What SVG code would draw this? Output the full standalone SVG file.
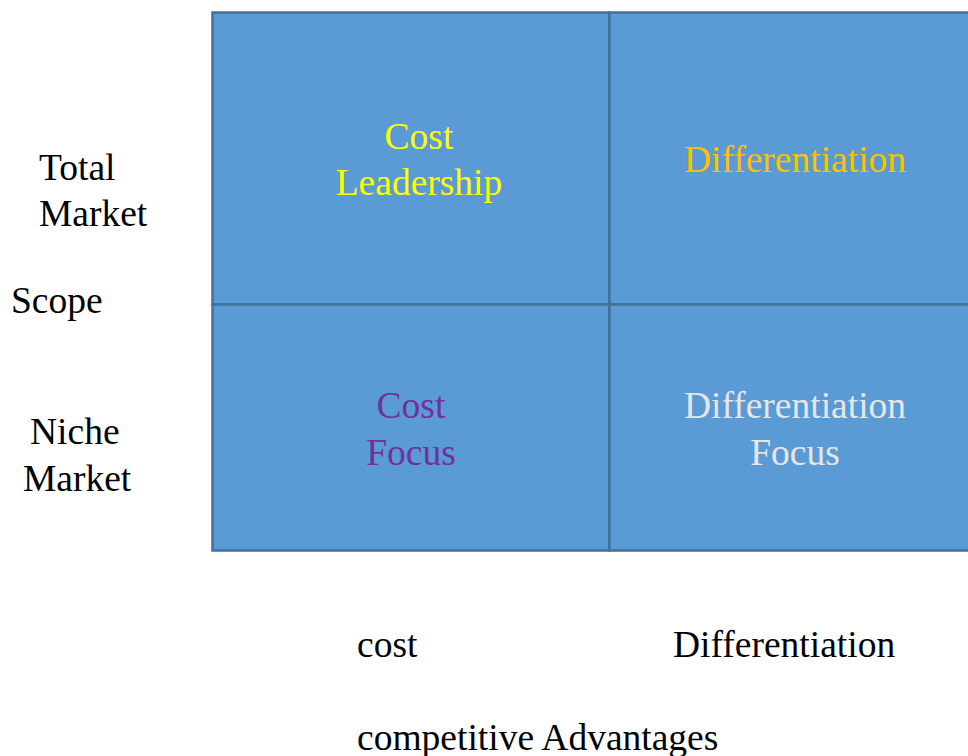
<svg xmlns="http://www.w3.org/2000/svg" width="968" height="756" viewBox="0 0 968 756">
<style>
.cell{fill:#5B9BD5;stroke:#41719C;stroke-width:2.5}
text{font-family:"Liberation Serif","Times New Roman",serif;font-size:37.5px}
.c{text-anchor:middle}
.k{fill:#000}
</style>
<rect width="968" height="756" fill="#fff"/>
<g id="cost-leadership">
<rect class="cell" x="212.5" y="12.5" width="397" height="292"/>
<text class="c" x="419" y="149" fill="#FFFF00">Cost</text>
<text class="c" x="419" y="195" fill="#FFFF00">Leadership</text>
</g>
<g id="differentiation">
<rect class="cell" x="609.5" y="12.5" width="400" height="292"/>
<text class="c" x="795" y="172" fill="#FFC000">Differentiation</text>
</g>
<g id="cost-focus">
<rect class="cell" x="212.5" y="304.5" width="397" height="246"/>
<text class="c" x="411" y="418" fill="#7030A0">Cost</text>
<text class="c" x="411" y="465" fill="#7030A0">Focus</text>
</g>
<g id="differentiation-focus">
<rect class="cell" x="609.5" y="304.5" width="400" height="246"/>
<text class="c" x="795" y="418" fill="#E7E6E6">Differentiation</text>
<text class="c" x="795" y="465" fill="#E7E6E6">Focus</text>
</g>
<g id="labels" class="k">
<text x="39" y="180">Total</text>
<text x="39" y="226">Market</text>
<text x="11" y="313">Scope</text>
<text x="30" y="444">Niche</text>
<text x="23" y="491">Market</text>
<text x="357" y="657">cost</text>
<text x="673" y="657">Differentiation</text>
<text x="357" y="750">competitive Advantages</text>
</g>
<g id="connectors"/>
</svg>
